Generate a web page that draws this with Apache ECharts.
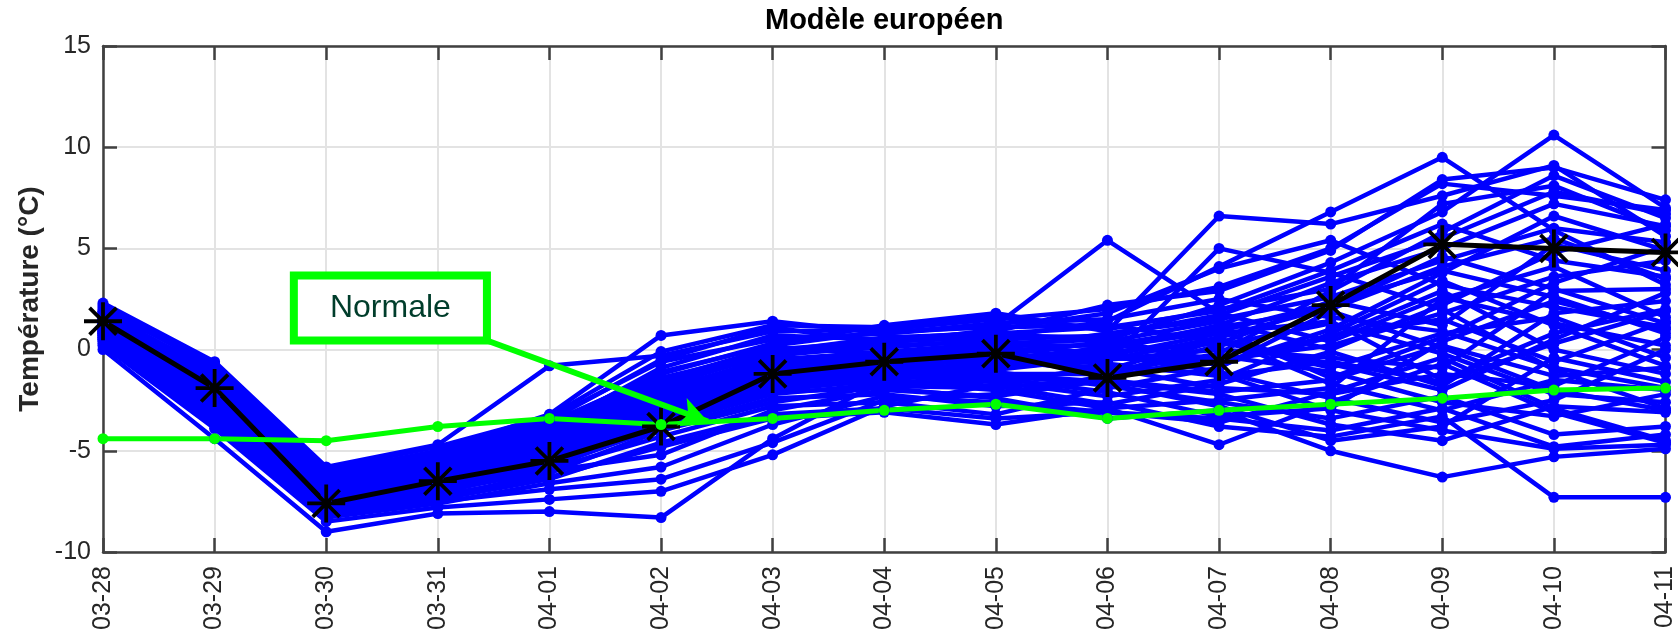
<!DOCTYPE html>
<html>
<head>
<meta charset="utf-8">
<script src="https://cdn.jsdelivr.net/npm/echarts@6/dist/echarts.min.js"></script>
<style>
html, body { margin: 0; padding: 0; background: #fff; }
#chart { width: 1678px; height: 635px; }
</style>
</head>
<body>
<div id="chart"></div>
<script>
var dates = ['03-28', '03-29', '03-30', '03-31', '04-01', '04-02', '04-03', '04-04',
    '04-05', '04-06', '04-07', '04-08', '04-09', '04-10', '04-11'];

// run de contrôle (noir, étoiles)
var controlRun = [1.4, -1.9, -7.6, -6.5, -5.5, -3.8, -1.2, -0.6, -0.2, -1.4, -0.6, 2.2, 5.2, 5.0, 4.8];

// normale de saison (vert)
var normale = [-4.4, -4.4, -4.5, -3.8, -3.4, -3.7, -3.4, -3.0, -2.7, -3.4, -3.0, -2.7, -2.4, -2.0, -1.9];

// membres de l'ensemble (bleu)
var members = [
    [2.3, -0.6, -5.8, -4.7, -0.8, -0.3, 0.9, 1.0, 1.5, 2.0, 3.1, 5.0, 8.2, 7.6, 6.9],
    [2.1, -0.9, -6.1, -5.0, -3.2, 0.7, 1.4, 0.8, 1.2, 5.4, 1.8, 0.4, 2.6, 1.3, 0.2],
    [1.9, -1.2, -6.4, -5.3, -3.6, -1.2, 0.3, 1.2, 1.8, 0.9, 6.6, 6.2, 7.6, 9.1, 5.6],
    [1.8, -1.5, -6.6, -5.5, -4.0, -1.8, -0.2, 0.4, 0.6, 1.4, 4.1, 6.8, 9.5, 5.9, 3.2],
    [1.7, -1.7, -6.8, -5.8, -4.3, -2.1, -0.5, -0.1, 0.3, 0.5, 2.2, 4.3, 6.8, 10.6, 7.0],
    [1.6, -1.9, -6.9, -6.0, -4.5, -2.4, -0.8, -0.3, -0.2, -0.6, 5.0, 3.8, 2.0, -1.0, -2.9],
    [1.5, -2.0, -7.0, -6.1, -4.6, -2.6, -0.9, -0.6, -0.5, -1.1, -0.2, 2.9, 5.8, 8.6, 6.5],
    [1.4, -2.2, -7.1, -6.2, -4.8, -2.8, -1.1, -0.8, -0.9, 0.2, 1.0, -1.4, 0.6, 3.3, 5.1],
    [1.3, -2.3, -7.2, -6.3, -4.9, -3.0, -1.3, -1.0, -1.2, -1.6, -2.2, -3.7, -4.5, -2.8, -3.1],
    [1.2, -2.4, -7.3, -6.4, -5.0, -3.2, -1.6, -1.3, -1.6, -2.3, -1.5, 0.8, 3.4, 1.2, -0.8],
    [1.1, -2.6, -7.4, -6.5, -5.2, -3.4, -1.8, -1.6, -2.0, -2.9, -4.7, -2.6, -0.7, -3.1, -4.6],
    [1.0, -2.7, -7.5, -6.6, -5.4, -3.6, -2.1, -1.9, -2.4, -3.4, -3.0, -5.0, -6.3, -5.3, -4.9],
    [0.9, -2.9, -7.6, -6.8, -5.6, -3.9, -2.4, -2.2, -2.8, -2.6, -3.8, -4.3, -3.3, -7.3, -7.3],
    [0.8, -3.1, -7.8, -7.0, -5.9, -4.3, -2.8, -2.6, -3.2, -1.9, -0.9, 1.9, 0.1, -2.0, -3.0],
    [0.6, -3.3, -8.0, -7.2, -6.3, -4.8, -3.4, -3.1, -3.7, -2.9, -2.5, -1.9, 2.5, 4.1, 1.6],
    [0.4, -3.6, -8.2, -7.5, -6.9, -6.4, -4.6, -2.5, -2.2, -1.3, 0.5, -0.7, -2.0, 0.5, 2.8],
    [0.2, -3.9, -8.5, -7.8, -7.4, -7.0, -5.2, -2.8, -1.7, -0.8, -1.2, -3.0, -4.0, -4.9, -4.7],
    [0.0, -4.4, -9.0, -8.1, -8.0, -8.3, -4.4, -1.5, -1.0, -0.1, 0.3, 2.4, 1.2, 5.2, 3.9],
    [1.4, -1.3, -6.3, -5.6, -3.9, -0.9, 0.7, 0.5, 0.9, 2.2, 2.9, 4.9, 8.4, 9.0, 7.4],
    [1.7, -1.0, -6.2, -5.2, -3.5, -0.5, 1.1, 0.3, 1.0, 1.8, 4.0, 5.4, 3.2, 2.1, 1.1],
    [1.9, -1.4, -6.5, -5.9, -4.1, -1.5, 0.1, -0.2, 0.0, 0.8, 1.5, 2.6, 4.4, 6.0, 5.3],
    [1.2, -2.1, -7.0, -5.9, -4.4, -2.2, -0.3, 0.2, 0.4, -0.3, 0.8, 1.4, -1.5, 0.8, 2.0],
    [1.5, -1.8, -6.7, -5.7, -4.2, -1.9, -0.6, -0.4, -0.1, 0.3, -0.5, 0.2, 1.8, 3.6, 4.4],
    [1.1, -2.5, -7.3, -6.1, -4.7, -2.5, -1.0, -0.7, -0.6, -0.9, -1.9, -2.2, -1.2, -1.8, 0.6],
    [0.9, -2.8, -7.7, -6.7, -5.3, -3.1, -1.4, -1.1, -1.3, -1.7, -2.8, -4.5, -3.8, -0.4, -1.6],
    [1.3, -2.0, -6.9, -6.0, -4.6, -2.7, -1.2, -0.9, -0.8, 0.0, 1.2, 3.3, 5.0, 7.2, 6.1],
    [0.7, -3.0, -7.9, -7.1, -5.7, -3.5, -1.9, -1.4, -1.0, -0.4, -0.6, 0.6, 2.9, 0.0, -1.2],
    [1.6, -1.6, -6.6, -5.4, -3.8, -1.4, -0.1, 0.6, 0.8, 1.1, 1.9, 3.9, 6.2, 4.4, 3.6],
    [1.0, -2.6, -7.4, -6.5, -5.1, -3.3, -1.7, -1.2, -1.4, -2.1, -3.3, -2.9, 0.4, 2.4, 1.0],
    [0.5, -3.4, -8.1, -7.3, -6.1, -4.0, -2.6, -1.8, -1.9, -1.4, -0.3, -1.1, -2.6, -3.3, -2.2],
    [1.8, -1.1, -6.3, -5.6, -4.0, -1.6, 0.0, 0.4, 0.7, 0.6, -0.8, 1.0, 3.8, 6.6, 4.9],
    [1.4, -1.9, -6.8, -5.8, -4.4, -2.3, -0.7, -0.2, 0.1, -0.5, 0.0, -0.4, -0.9, 2.9, 3.0],
    [0.8, -2.9, -7.6, -6.9, -5.5, -3.7, -2.2, -1.7, -1.5, -1.0, 0.6, 2.1, 4.6, 3.0, 1.3],
    [1.2, -2.3, -7.2, -6.3, -4.9, -2.9, -1.5, -1.0, -0.7, -0.2, -1.1, -2.4, -3.6, -2.5, 0.0],
    [2.0, -0.8, -6.0, -5.1, -3.4, -0.6, 0.5, 0.8, 1.3, 1.5, 2.5, 1.6, 0.9, -0.9, -1.9],
    [0.6, -3.2, -8.0, -7.1, -5.8, -3.8, -2.0, -1.5, -1.8, -2.7, -1.7, -0.1, -1.8, 1.8, 2.4],
    [1.5, -1.8, -6.7, -5.9, -4.3, -2.0, -0.4, -0.5, -0.3, 0.4, 1.4, 0.0, 2.2, 4.8, 6.2],
    [1.0, -2.5, -7.3, -6.4, -5.0, -3.0, -1.3, -0.8, -1.1, -1.8, -2.6, -3.4, -2.3, -4.2, -3.8],
    [0.3, -3.7, -8.3, -7.6, -6.6, -5.8, -3.7, -2.3, -2.6, -3.1, -3.6, -2.1, -0.4, -2.9, -4.5],
    [1.7, -1.3, -6.4, -5.5, -3.7, -1.1, 0.2, 0.9, 1.1, 1.2, 0.4, -0.9, 0.8, 1.6, -0.4],
    [1.3, -2.1, -7.0, -6.2, -4.8, -2.6, -1.0, -0.6, -0.4, -0.7, -1.3, -0.6, -1.6, 0.3, 1.9],
    [0.9, -2.7, -7.5, -6.6, -5.2, -3.4, -1.6, -1.3, -1.2, -1.2, 0.2, 1.3, -0.2, -2.2, -2.6],
    [2.2, -0.7, -5.9, -4.8, -3.3, -0.1, 1.2, 1.1, 1.6, 1.0, 2.0, 3.0, 7.2, 8.1, 5.9],
    [1.1, -2.4, -7.2, -6.3, -4.7, -2.4, -1.1, -0.7, -0.5, 0.1, 0.9, 2.3, 3.9, 2.6, 0.8],
    [0.7, -3.1, -7.8, -7.0, -6.0, -5.2, -3.0, -2.0, -2.3, -1.5, -2.1, -1.5, 0.2, -1.3, -0.9],
    [1.6, -1.7, -6.6, -5.7, -4.1, -1.7, -0.2, 0.1, 0.5, 0.7, 1.7, 3.6, 5.5, 7.8, 6.7],
    [1.2, -2.2, -7.1, -6.1, -4.6, -2.2, -0.9, -0.4, -0.3, -0.4, -0.7, 0.7, 1.5, -0.6, 1.4],
    [0.8, -2.8, -7.7, -6.8, -5.4, -3.3, -1.9, -1.2, -0.9, -0.5, 0.6, -1.7, -3.0, -1.5, -2.0],
    [1.4, -2.0, -6.9, -6.0, -4.5, -2.1, -0.6, -0.3, 0.2, 0.2, 1.1, 2.0, 4.1, 5.5, 3.5],
    [0.5, -3.5, -8.2, -7.4, -6.4, -4.6, -3.2, -2.9, -3.4, -3.1, -3.4, -4.0, -2.9, -4.8, -4.2]
];

var font = '"Liberation Sans", Arial, Helvetica, sans-serif';
var axisColor = '#404040';
var textColor = '#262626';
var green = '#00ff00';

// étoile façon matlab '*'
var starSymbol = 'path://M-10,-1L10,-1L10,1L-10,1Z M-1,-10L1,-10L1,10L-1,10Z '
    + 'M-6.36,-7.78L7.78,6.36L6.36,7.78L-7.78,-6.36Z M-7.78,6.36L6.36,-7.78L7.78,-6.36L-6.36,7.78Z';

function toPairs(vals) {
    return vals.map(function (v, i) { return [i, v]; });
}

var chart = echarts.init(document.getElementById('chart'));

var series = members.map(function (m) {
    return {
        type: 'line',
        data: toPairs(m),
        symbol: 'circle',
        symbolSize: 11,
        lineStyle: { color: '#0000ff', width: 4.5 },
        itemStyle: { color: '#0000ff' },
        silent: true
    };
});

series.push({
    type: 'line',
    data: toPairs(controlRun),
    symbol: starSymbol,
    symbolSize: 38,
    lineStyle: { color: '#000', width: 5 },
    itemStyle: { color: '#000' },
    silent: true
});

series.push({
    type: 'line',
    data: toPairs(normale),
    symbol: 'circle',
    symbolSize: 11,
    lineStyle: { color: green, width: 5 },
    itemStyle: { color: green },
    silent: true,
    markArea: {
        silent: true,
        itemStyle: { color: '#fff', borderColor: green, borderWidth: 8 },
        label: {
            show: true, position: 'inside', formatter: 'Normale',
            fontSize: 32, color: '#003d2b', fontFamily: font
        },
        data: [[{ coord: [1.71, 3.66] }, { coord: [3.44, 0.45] }]]
    },
    markLine: {
        silent: true,
        symbol: ['none', 'arrow'],
        symbolSize: [22, 28],
        lineStyle: { color: green, width: 6, type: 'solid' },
        label: { show: false },
        data: [[{ coord: [3.44, 0.45] }, { coord: [5.42, -3.55] }]]
    }
});

var option = {
    animation: false,
    backgroundColor: '#fff',
    title: {
        text: 'Modèle européen',
        left: 765,
        top: 6,
        padding: 0,
        textStyle: { fontSize: 29, fontWeight: 'bold', color: '#000', fontFamily: font }
    },
    grid: { left: 103, right: 11, top: 46, bottom: 83 },
    xAxis: [{
        type: 'value', min: 0, max: 14, interval: 1, position: 'bottom',
        axisLine: { show: true, onZero: false, lineStyle: { color: axisColor, width: 2.5 } },
        axisTick: { show: true, inside: true, length: 14, lineStyle: { color: axisColor, width: 2.5 } },
        axisLabel: {
            rotate: 90, margin: 14, fontSize: 25, color: textColor, fontFamily: font,
            formatter: function (v) { return dates[v] || ''; }
        },
        splitLine: { show: true, lineStyle: { color: '#e3e3e3', width: 2 } }
    }, {
        type: 'value', min: 0, max: 14, interval: 1, position: 'top',
        axisLine: { show: true, onZero: false, lineStyle: { color: axisColor, width: 2.5 } },
        axisTick: { show: true, inside: true, length: 14, lineStyle: { color: axisColor, width: 2.5 } },
        axisLabel: { show: false },
        splitLine: { show: false }
    }],
    yAxis: [{
        type: 'value', min: -10, max: 15, interval: 5, position: 'left',
        name: 'Température (°C)',
        nameLocation: 'middle',
        nameGap: 58,
        nameTextStyle: { fontSize: 28, fontWeight: 'bold', color: textColor, fontFamily: font },
        axisLine: { show: true, onZero: false, lineStyle: { color: axisColor, width: 2.5 } },
        axisTick: { show: true, inside: true, length: 14, lineStyle: { color: axisColor, width: 2.5 } },
        axisLabel: { margin: 12, fontSize: 25, color: textColor, fontFamily: font },
        splitLine: { show: true, lineStyle: { color: '#e3e3e3', width: 2 } }
    }, {
        type: 'value', min: -10, max: 15, interval: 5, position: 'right',
        axisLine: { show: true, onZero: false, lineStyle: { color: axisColor, width: 2.5 } },
        axisTick: { show: true, inside: true, length: 14, lineStyle: { color: axisColor, width: 2.5 } },
        axisLabel: { show: false },
        splitLine: { show: false }
    }],
    series: series
};

chart.setOption(option);
</script>
</body>
</html>
